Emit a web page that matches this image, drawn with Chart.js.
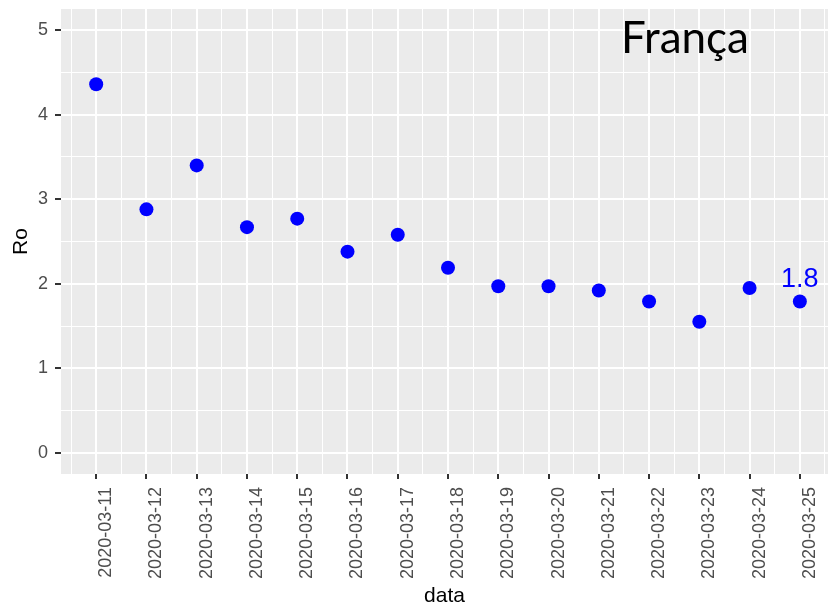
<!DOCTYPE html>
<html>
<head>
<meta charset="utf-8">
<script src="https://cdn.jsdelivr.net/npm/chart.js@4"></script>
<style>
  html, body { margin: 0; padding: 0; background: #fff; overflow: hidden; }
  #wrap { width: 828px; height: 609px; position: relative; }
</style>
</head>
<body>
<div id="wrap"><canvas id="chart"></canvas></div>
<script>
// datas (eixo x)
var dates = ['2020-03-11', '2020-03-12', '2020-03-13', '2020-03-14', '2020-03-15',
    '2020-03-16', '2020-03-17', '2020-03-18', '2020-03-19', '2020-03-20',
    '2020-03-21', '2020-03-22', '2020-03-23', '2020-03-24', '2020-03-25'];
// valores de Ro por dia
var ro = [4.36, 2.88, 3.40, 2.67, 2.77, 2.38, 2.58, 2.19, 1.97, 1.97, 1.92, 1.79, 1.55, 1.95, 1.79];
// rotulos do eixo y
var yTicks = [0, 1, 2, 3, 4, 5];
var country = 'França';

var points = [];
for (var i = 0; i < ro.length; i++) {
    points.push({ x: i, y: ro[i] });
}

function isMajor(v) {
    return Math.abs(v - Math.round(v)) < 1e-6;
}

// fundo cinza do painel (estilo ggplot)
var panelBg = {
    id: 'panelBg',
    beforeDraw: function (chart) {
        var a = chart.chartArea, ctx = chart.ctx;
        ctx.save();
        ctx.fillStyle = '#EBEBEB';
        ctx.fillRect(a.left, a.top, a.right - a.left, a.bottom - a.top);
        ctx.restore();
    }
};

// titulo dentro do painel e rotulo do ultimo ponto
var annotations = {
    id: 'annotations',
    afterDatasetsDraw: function (chart) {
        var ctx = chart.ctx;
        var xs = chart.scales.x, ys = chart.scales.y;
        var last = ro.length - 1;
        ctx.save();
        ctx.fillStyle = '#0000FF';
        ctx.font = '27px "Liberation Sans", Arial, sans-serif';
        ctx.textAlign = 'center';
        ctx.textBaseline = 'alphabetic';
        ctx.fillText(ro[last].toFixed(1), xs.getPixelForValue(last), ys.getPixelForValue(ro[last]) - 15);

        ctx.fillStyle = '#000';
        ctx.font = '44px Lato, "Open Sans", sans-serif';
        ctx.textAlign = 'left';
        ctx.fillText(country, 621, 53);
        ctx.restore();
    }
};

var ctx = document.getElementById('chart').getContext('2d');
new Chart(ctx, {
    type: 'scatter',
    data: {
        datasets: [{
            data: points,
            backgroundColor: '#0000FF',
            borderWidth: 0,
            pointRadius: 7,
            pointHoverRadius: 7,
            showLine: false
        }]
    },
    plugins: [panelBg, annotations],
    options: {
        responsive: true,
        maintainAspectRatio: false,
        animation: false,
        layout: { autoPadding: false, padding: { top: 9, left: 0, right: 0, bottom: 0 } },
        plugins: {
            legend: { display: false },
            tooltip: { enabled: false }
        },
        scales: {
            x: {
                type: 'linear',
                min: -0.7,
                max: 14.56,
                border: { display: false },
                grid: {
                    color: '#FFFFFF',
                    lineWidth: function (c) { return isMajor(c.tick.value) ? 2 : 1; },
                    tickColor: function (c) { return isMajor(c.tick.value) ? '#333333' : 'rgba(0,0,0,0)'; },
                    tickLength: 5,
                    tickWidth: 2
                },
                ticks: {
                    stepSize: 0.5,
                    includeBounds: false,
                    autoSkip: false,
                    minRotation: 90,
                    maxRotation: 90,
                    padding: 8,
                    labelOffset: 10,
                    color: '#4D4D4D',
                    font: { family: '"Liberation Sans", Arial, sans-serif', size: 18 },
                    callback: function (v) { return isMajor(v) ? (dates[Math.round(v)] || '') : ''; }
                },
                title: {
                    display: true,
                    text: 'data',
                    color: '#000',
                    padding: { top: 0, bottom: 0 },
                    font: { family: '"Liberation Sans", Arial, sans-serif', size: 21 }
                },
                afterFit: function (s) { s.height = 135; s.paddingLeft = 0; s.paddingRight = 0; }
            },
            y: {
                min: -0.25,
                max: 5.25,
                border: { display: false },
                grid: {
                    color: '#FFFFFF',
                    lineWidth: function (c) { return isMajor(c.tick.value) ? 2 : 1; },
                    tickColor: function (c) { return isMajor(c.tick.value) ? '#333333' : 'rgba(0,0,0,0)'; },
                    tickLength: 6,
                    tickWidth: 2
                },
                ticks: {
                    autoSkip: false,
                    padding: 7,
                    color: '#4D4D4D',
                    font: { family: '"Liberation Sans", Arial, sans-serif', size: 18 },
                    callback: function (v) { return isMajor(v) ? String(Math.round(v)) : ''; }
                },
                // linhas principais nos inteiros e secundarias nas metades
                afterBuildTicks: function (s) {
                    var t = [];
                    yTicks.forEach(function (v, k) {
                        t.push({ value: v });
                        if (k < yTicks.length - 1) t.push({ value: (v + yTicks[k + 1]) / 2 });
                    });
                    s.ticks = t;
                },
                title: {
                    display: true,
                    text: 'Ro',
                    color: '#000',
                    padding: { top: 9, bottom: 0 },
                    font: { family: '"Liberation Sans", Arial, sans-serif', size: 21 }
                },
                afterFit: function (s) { s.width = 61; s.paddingTop = 0; s.paddingBottom = 0; }
            }
        }
    }
});
</script>
</body>
</html>
